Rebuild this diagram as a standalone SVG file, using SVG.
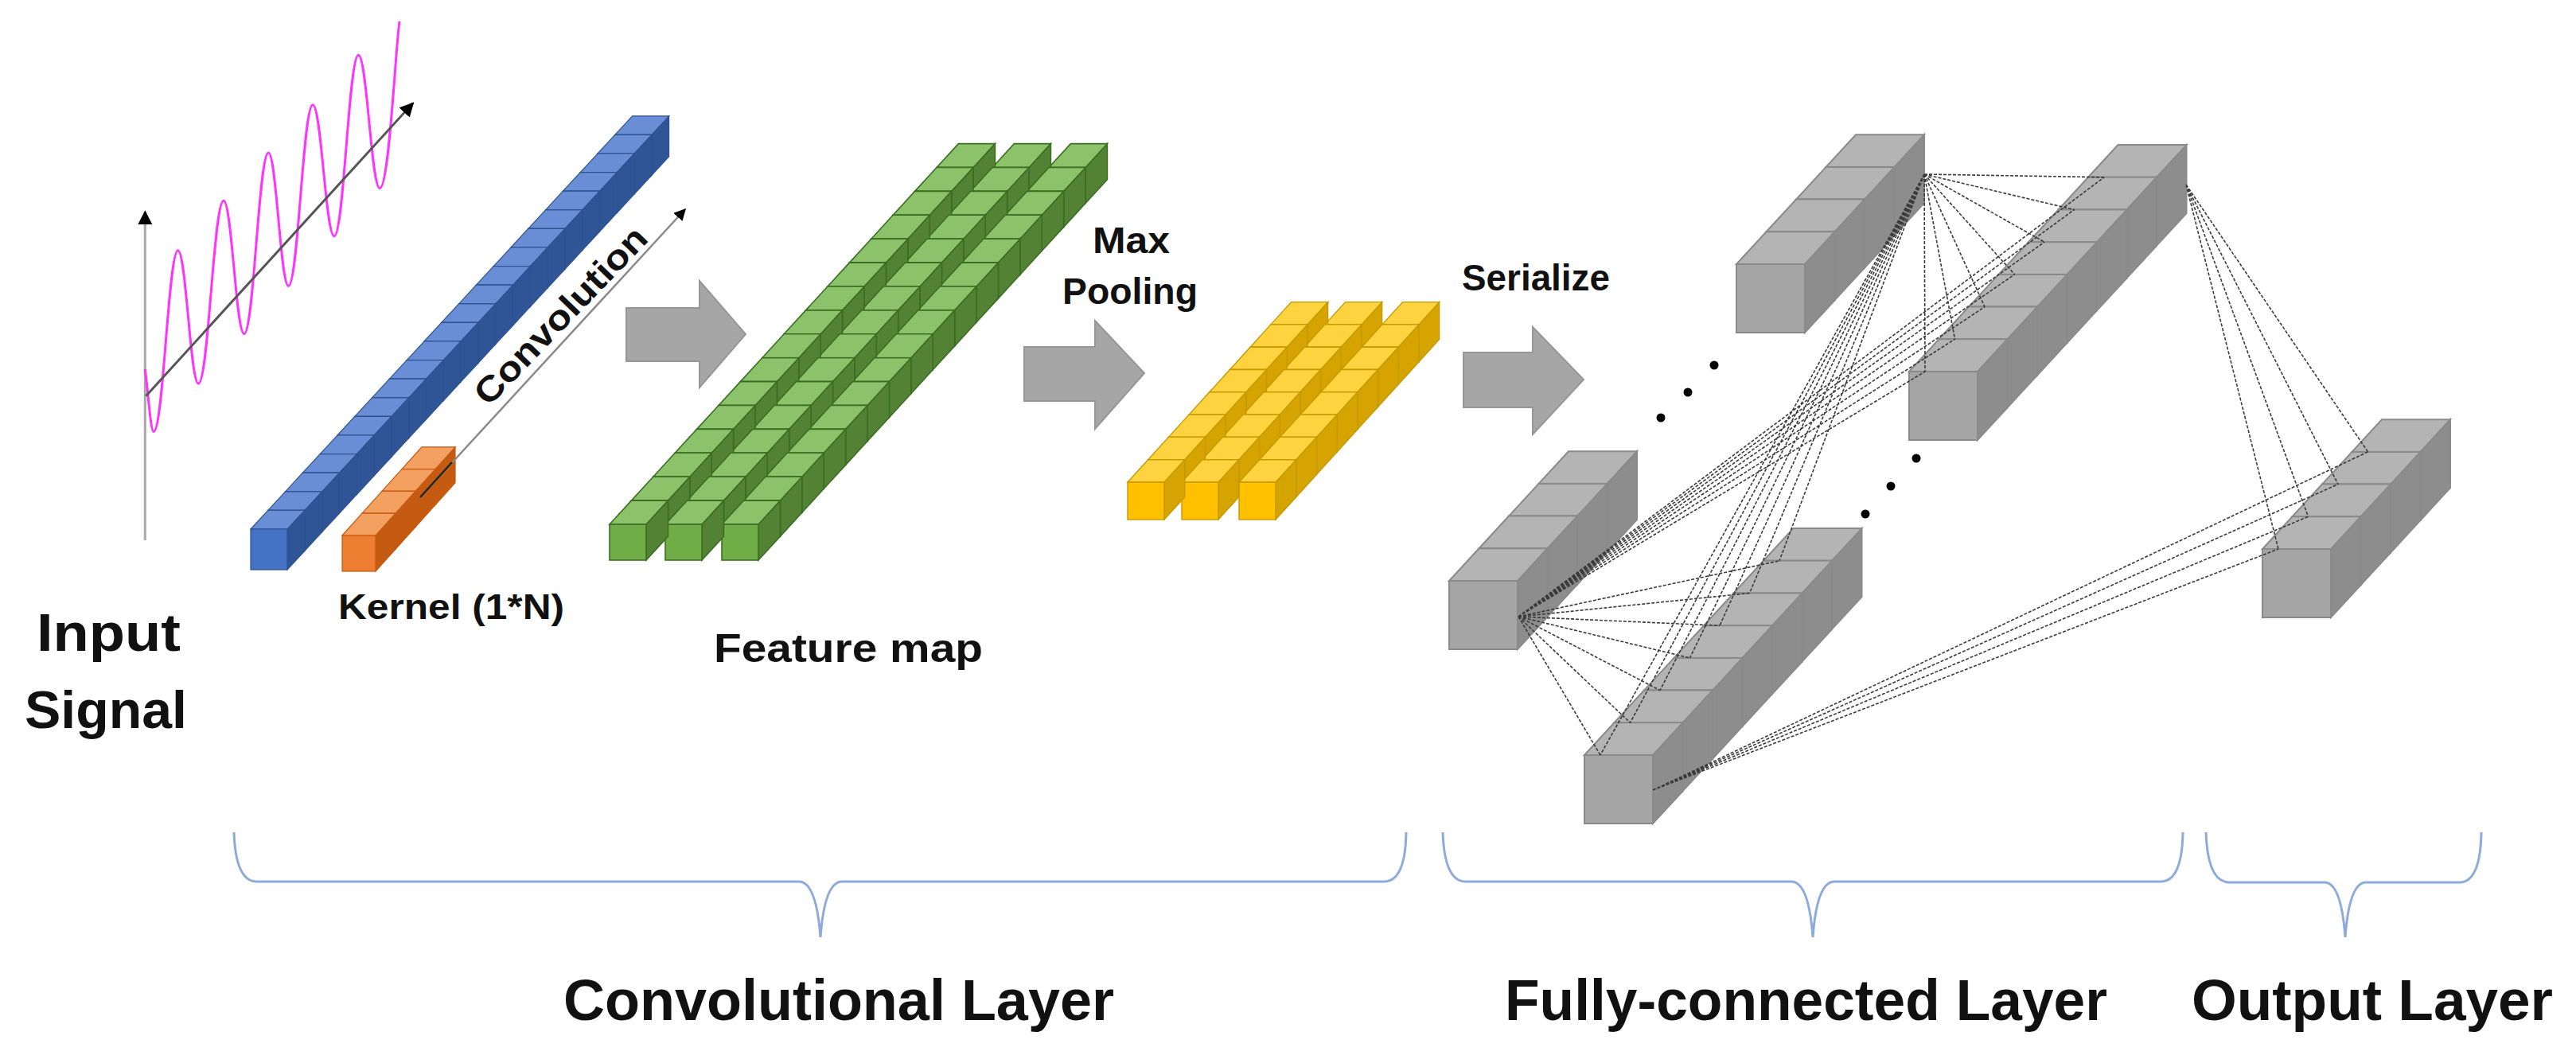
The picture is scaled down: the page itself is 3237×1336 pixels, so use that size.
<svg xmlns="http://www.w3.org/2000/svg" xmlns:xlink="http://www.w3.org/1999/xlink" width="3237" height="1336" viewBox="0 0 3237 1336">
<style>
.lbl{font-family:"Liberation Sans",Arial,sans-serif;font-weight:bold;fill:#111}
.brace{fill:none;stroke:#8eaadb;stroke-width:3}
.blk{fill:#a6a6a6;stroke:#969696;stroke-width:2}
.conn{fill:none;stroke:#3a3a3a;stroke-width:1.6;stroke-dasharray:4 2}
</style>
<defs>
<marker id="ah" viewBox="0 0 10 10" refX="9" refY="5" markerWidth="6" markerHeight="6" orient="auto"><path d="M0,0 L10,5 L0,10 z" fill="#000"/></marker>
<g id="bc" stroke="#2f528f" stroke-width="1.2"><polygon points="46,0 67.8,-23.6 67.8,27.4 46,51" fill="#2f5597"/><polygon points="0,0 21.8,-23.6 67.8,-23.6 46,0" fill="#6a8ed6"/><rect width="46" height="51" fill="#4472c4"/></g>
<g id="oc" stroke="#c55a11" stroke-width="1.2"><polygon points="42,0 67,-27.8 67,17.2 42,45" fill="#c55a11"/><polygon points="0,0 25,-27.8 67,-27.8 42,0" fill="#f4a060"/><rect width="42" height="45" fill="#ed7d31"/></g>
<g id="gc" stroke="#3b6e22" stroke-width="1.6"><polygon points="46,0 73.4,-29.9 73.4,15.1 46,45" fill="#548235"/><polygon points="0,0 27.4,-29.9 73.4,-29.9 46,0" fill="#8cc36a"/><rect width="46" height="45" fill="#70ad47"/></g>
<g id="yc" stroke="#c59a00" stroke-width="1.4"><polygon points="46,0 71.7,-28.3 71.7,18.7 46,47" fill="#d6a400"/><polygon points="0,0 25.7,-28.3 71.7,-28.3 46,0" fill="#ffd23f"/><rect width="46" height="47" fill="#ffc000"/></g>
<g id="kc" stroke="#8a8a8a" stroke-width="2"><polygon points="86,0 123.5,-40.7 123.5,45.3 86,86" fill="#8d8d8d"/><polygon points="0,0 37.5,-40.7 123.5,-40.7 86,0" fill="#b4b4b4"/><rect width="86" height="86" fill="#a5a5a5"/></g>
<g id="grow"><use href="#gc" x="907" y="659"/><use href="#gc" x="836" y="659"/><use href="#gc" x="766" y="659"/></g>
<g id="yrow"><use href="#yc" x="1557" y="606"/><use href="#yc" x="1485" y="606"/><use href="#yc" x="1417" y="606"/></g>
</defs>
<rect width="3237" height="1336" fill="#fff"/>

<g id="input-signal">
<line x1="182.3" y1="679" x2="182.3" y2="266" stroke="#a8a8a8" stroke-width="3" marker-end="url(#ah)"/>
<path d="M182.3,464 C186,490 189,542.4 193.2,542.4 C205.2,542.4 211.6,314.7 223.6,314.7 C233.9,314.7 239.1,482.1 249.4,482.1 C262,482.1 268.4,252.2 281,252.2 C291.3,252.2 296.5,419.6 306.8,419.6 C319,419.6 325.1,192 337.3,192 C347.3,192 352.5,359.4 362.5,359.4 C374.7,359.4 380.8,131.7 393,131.7 C403.8,131.7 409.2,296.9 420,296.9 C432.2,296.9 438.2,69.2 450.4,69.2 C461.2,69.2 466.5,236.6 477.3,236.6 C489,236.6 497,60 502,26.8" fill="none" stroke="#ff33ff" stroke-width="3"/>
<line x1="183.4" y1="497.8" x2="519" y2="129.5" stroke="#555" stroke-width="3" marker-end="url(#ah)"/>
<text class="lbl" x="46" y="818" font-size="66" textLength="181" lengthAdjust="spacingAndGlyphs">Input</text>
<text class="lbl" x="31" y="915" font-size="66" textLength="204" lengthAdjust="spacingAndGlyphs">Signal</text>
</g>

<g id="input-bar">
<use href="#bc" x="772.8" y="169.4"/><use href="#bc" x="751" y="193"/><use href="#bc" x="729.2" y="216.6"/><use href="#bc" x="707.4" y="240.2"/><use href="#bc" x="685.6" y="263.8"/><use href="#bc" x="663.8" y="287.4"/><use href="#bc" x="642" y="311"/><use href="#bc" x="620.2" y="334.6"/><use href="#bc" x="598.4" y="358.2"/><use href="#bc" x="576.6" y="381.8"/><use href="#bc" x="554.8" y="405.4"/><use href="#bc" x="533" y="429"/><use href="#bc" x="511.2" y="452.6"/><use href="#bc" x="489.4" y="476.2"/><use href="#bc" x="467.6" y="499.8"/><use href="#bc" x="445.8" y="523.4"/><use href="#bc" x="424" y="547"/><use href="#bc" x="402.2" y="570.6"/><use href="#bc" x="380.4" y="594.2"/><use href="#bc" x="358.6" y="617.8"/><use href="#bc" x="336.8" y="641.4"/><use href="#bc" x="315" y="665"/>
</g>

<g id="kernel">
<use href="#oc" x="505" y="589.6"/><use href="#oc" x="480" y="617.4"/><use href="#oc" x="455" y="645.2"/><use href="#oc" x="430" y="673"/>
<text class="lbl" x="425" y="778" font-size="44" textLength="284" lengthAdjust="spacingAndGlyphs">Kernel (1*N)</text>
</g>

<g id="convolution">
<line x1="528" y1="625" x2="861" y2="263" stroke="#8a8a8a" stroke-width="2.5" marker-end="url(#ah)"/>
<line x1="528" y1="625" x2="568" y2="581" stroke="#222" stroke-width="2.5"/>
<text class="lbl" font-size="44" transform="translate(614,512) rotate(-46.1)" textLength="292" lengthAdjust="spacingAndGlyphs">Convolution</text>
</g>

<g id="arrow1"><polygon class="blk" points="787,387 879,387 879,353 937,420 879,487 879,454 787,454"/></g>

<g id="feature-map">
<use href="#grow" transform="translate(411,-448.5)"/><use href="#grow" transform="translate(383.6,-418.6)"/><use href="#grow" transform="translate(356.2,-388.7)"/><use href="#grow" transform="translate(328.8,-358.8)"/><use href="#grow" transform="translate(301.4,-328.9)"/><use href="#grow" transform="translate(274,-299)"/><use href="#grow" transform="translate(246.6,-269.1)"/><use href="#grow" transform="translate(219.2,-239.2)"/><use href="#grow" transform="translate(191.8,-209.3)"/><use href="#grow" transform="translate(164.4,-179.4)"/><use href="#grow" transform="translate(137,-149.5)"/><use href="#grow" transform="translate(109.6,-119.6)"/><use href="#grow" transform="translate(82.2,-89.7)"/><use href="#grow" transform="translate(54.8,-59.8)"/><use href="#grow" transform="translate(27.4,-29.9)"/><use href="#grow"/>
<text class="lbl" x="897" y="832" font-size="50" textLength="338" lengthAdjust="spacingAndGlyphs">Feature map</text>
</g>

<g id="max-pooling">
<text class="lbl" x="1373" y="318" font-size="46" textLength="97" lengthAdjust="spacingAndGlyphs">Max</text>
<text class="lbl" x="1335" y="382" font-size="46" textLength="170" lengthAdjust="spacingAndGlyphs">Pooling</text>
<polygon class="blk" points="1287,436 1376,436 1376,403 1438,469 1376,539 1376,504 1287,504"/>
</g>

<g id="pooled">
<use href="#yrow" transform="translate(179.9,-198.1)"/><use href="#yrow" transform="translate(154.2,-169.8)"/><use href="#yrow" transform="translate(128.5,-141.5)"/><use href="#yrow" transform="translate(102.8,-113.2)"/><use href="#yrow" transform="translate(77.1,-84.9)"/><use href="#yrow" transform="translate(51.4,-56.6)"/><use href="#yrow" transform="translate(25.7,-28.3)"/><use href="#yrow"/>
</g>

<g id="serialize">
<text class="lbl" x="1837" y="365" font-size="46" textLength="186" lengthAdjust="spacingAndGlyphs">Serialize</text>
<polygon class="blk" points="1839,443 1926,443 1926,411 1990,477 1926,546 1926,512 1839,512"/>
</g>

<g id="fc-a"><use href="#kc" x="2294.5" y="209.9"/><use href="#kc" x="2257" y="250.6"/><use href="#kc" x="2219.5" y="291.3"/><use href="#kc" x="2182" y="332"/></g>
<g id="fc-b"><use href="#kc" x="2624" y="222.8"/><use href="#kc" x="2586.5" y="263.5"/><use href="#kc" x="2549" y="304.2"/><use href="#kc" x="2511.5" y="344.9"/><use href="#kc" x="2474" y="385.6"/><use href="#kc" x="2436.5" y="426.3"/><use href="#kc" x="2399" y="467"/></g>
<g id="fc-c"><use href="#kc" x="1933.5" y="607.9"/><use href="#kc" x="1896" y="648.6"/><use href="#kc" x="1858.5" y="689.3"/><use href="#kc" x="1821" y="730"/></g>
<g id="fc-d"><use href="#kc" x="2216" y="704.8"/><use href="#kc" x="2178.5" y="745.5"/><use href="#kc" x="2141" y="786.2"/><use href="#kc" x="2103.5" y="826.9"/><use href="#kc" x="2066" y="867.6"/><use href="#kc" x="2028.5" y="908.3"/><use href="#kc" x="1991" y="949"/></g>
<g id="output"><use href="#kc" x="2955.5" y="567.9"/><use href="#kc" x="2918" y="608.6"/><use href="#kc" x="2880.5" y="649.3"/><use href="#kc" x="2843" y="690"/></g>

<g id="ellipsis" fill="#000">
<circle cx="2154" cy="459" r="5.5"/><circle cx="2121" cy="493" r="5.5"/><circle cx="2087" cy="525" r="5.5"/>
<circle cx="2408" cy="576" r="5.5"/><circle cx="2376" cy="611" r="5.5"/><circle cx="2344" cy="646" r="5.5"/>
</g>

<g id="connectors" class="conn">
<path d="M2418,219 L2419,467 M2418,219 L2456.5,426.3 M2418,219 L2494,385.6 M2418,219 L2531.5,344.9 M2418,219 L2569,304.2 M2418,219 L2606.5,263.5 M2418,219 L2644,222.8"/>
<path d="M2418,219 L2011,949 M2418,219 L2048.5,908.3 M2418,219 L2086,867.6 M2418,219 L2123.5,826.9 M2418,219 L2161,786.2 M2418,219 L2198.5,745.5 M2418,219 L2236,704.8"/>
<path d="M1908,775 L2419,467 M1908,775 L2456.5,426.3 M1908,775 L2494,385.6 M1908,775 L2531.5,344.9 M1908,775 L2569,304.2 M1908,775 L2606.5,263.5 M1908,775 L2644,222.8"/>
<path d="M1908,775 L2011,949 M1908,775 L2048.5,908.3 M1908,775 L2086,867.6 M1908,775 L2123.5,826.9 M1908,775 L2161,786.2 M1908,775 L2198.5,745.5 M1908,775 L2236,704.8"/>
<path d="M2747,232 L2863,690 M2747,232 L2900.5,649.3 M2747,232 L2938,608.6 M2747,232 L2975.5,567.9"/>
<path d="M2077,993 L2863,690 M2077,993 L2900.5,649.3 M2077,993 L2938,608.6 M2077,993 L2975.5,567.9"/>
</g>

<g id="braces">
<path class="brace" d="M294,1046 Q296,1107 322,1108 L1005,1108 Q1026,1110 1031,1178 Q1036,1110 1057,1108 L1740,1108 Q1766,1107 1767,1046"/>
<path class="brace" d="M1813,1046 Q1815,1107 1841,1108 L2252,1108 Q2273,1110 2278,1178 Q2283,1110 2304,1108 L2716,1108 Q2742,1107 2743,1046"/>
<path class="brace" d="M2772,1046 Q2774,1107 2800,1109 L2922,1109 Q2942,1111 2947,1178 Q2952,1111 2972,1109 L3092,1109 Q3117,1107 3118,1046"/>
</g>

<g id="layer-labels">
<text class="lbl" x="708" y="1282" font-size="72" textLength="692" lengthAdjust="spacingAndGlyphs">Convolutional Layer</text>
<text class="lbl" x="1891" y="1282" font-size="72" textLength="757" lengthAdjust="spacingAndGlyphs">Fully-connected Layer</text>
<text class="lbl" x="2754" y="1282" font-size="72" textLength="454" lengthAdjust="spacingAndGlyphs">Output Layer</text>
</g>
</svg>
